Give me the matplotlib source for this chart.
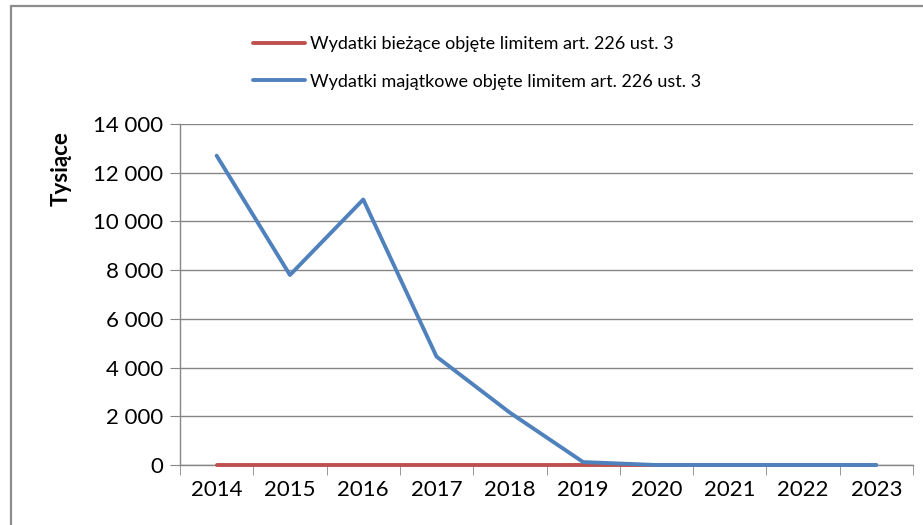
import matplotlib
matplotlib.use("Agg")
import matplotlib.pyplot as plt
from matplotlib.patches import Rectangle
from matplotlib.ticker import FuncFormatter

plt.rcParams.update({
    "font.family": ["Lato", "DejaVu Sans"],
    "axes.unicode_minus": False,
})

years = ["2014", "2015", "2016", "2017", "2018", "2019", "2020", "2021", "2022", "2023"]
biezace = [0, 0, 0, 0, 0, 0, 0, 0, 0, 0]
majatkowe = [12700, 7800, 10900, 4450, 2150, 120, 0, 0, 0, 0]
labels = ["Wydatki bieżące objęte limitem art. 226 ust. 3",
          "Wydatki majątkowe objęte limitem art. 226 ust. 3"]

COLORS = {"red": "#C0504D", "blue": "#4F81BD", "grid": "#868686"}

fig = plt.figure(figsize=(9.23, 5.25), dpi=100)
ax = fig.add_axes([180 / 923, 60 / 525, 733 / 923, 341 / 525])

# outer chart frame (cut by the image edge on right / bottom)
fig.patches.append(Rectangle((11 / 923, -0.05), 1.0, 1 - 6 / 525 + 0.05,
                             transform=fig.transFigure, fill=False,
                             edgecolor="#8c8c8c", linewidth=1.6))

x = list(range(len(years)))
ax.plot(x, biezace, color=COLORS["red"], lw=2.8, solid_capstyle="round",
        clip_on=False, zorder=3, label=labels[0])
ax.plot(x, majatkowe, color=COLORS["blue"], lw=2.8, solid_capstyle="round",
        solid_joinstyle="round", clip_on=False, zorder=4, label=labels[1])

ax.set_xlim(-0.5, len(years) - 0.5)
ax.set_ylim(0, 14000)
ax.set_yticks(range(0, 14001, 2000))
ax.yaxis.set_major_formatter(FuncFormatter(lambda v, _: f"{int(v):,}".replace(",", " ")))
ax.set_xticks(x)
ax.set_xticklabels(years)
ax.set_xticks([i - 0.5 for i in range(len(years) + 1)], minor=True)

ax.grid(axis="y", color=COLORS["grid"], lw=1.0)
ax.set_axisbelow(True)
for side in ["top", "right"]:
    ax.spines[side].set_visible(False)
for side in ["left", "bottom"]:
    ax.spines[side].set_color(COLORS["grid"])
    ax.spines[side].set_linewidth(1.0)
    ax.spines[side].set_zorder(1)

ax.tick_params(axis="x", which="major", length=0, pad=11, labelsize=16)
ax.tick_params(axis="x", which="minor", length=7, color=COLORS["grid"], direction="out")
ax.tick_params(axis="y", length=7, color=COLORS["grid"], pad=5, labelsize=16)

ax.set_ylabel("Tysiące", fontsize=16, fontweight="bold")
ax.yaxis.set_label_coords(-0.148, 0.868)

fig.legend(loc="upper left", bbox_to_anchor=(253 / 923, 1 - 36 / 525), frameon=False,
           fontsize=13, handlelength=2.9, handletextpad=0.28, labelspacing=1.2,
           borderpad=0, borderaxespad=0)

fig.savefig("out.png", dpi=100)
